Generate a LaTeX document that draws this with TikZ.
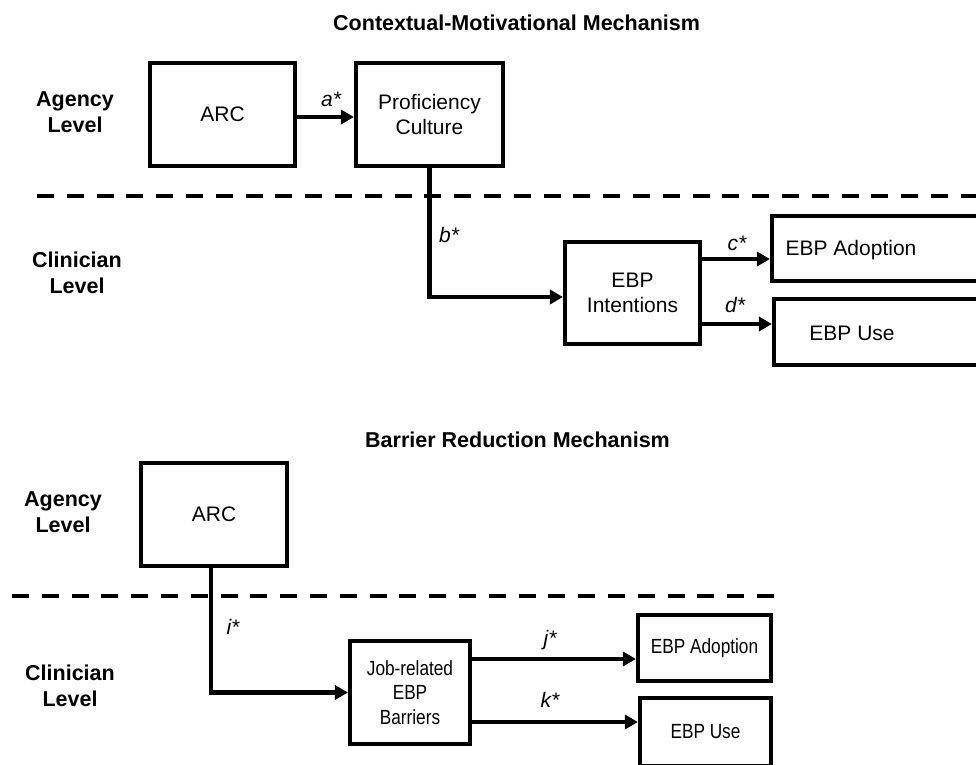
\documentclass[tikz,border=0pt]{standalone}
\usepackage{fontspec}
\setmainfont{Liberation Sans}
\newfontfamily\narrowfont[FakeStretch=0.84]{Liberation Sans}
\usetikzlibrary{arrows.meta}
\begin{document}
\begin{tikzpicture}[x=1pt,y=-1pt,
  box/.style={draw=black, line width=4.1pt, inner sep=0pt, align=center, font=\fontsize{21}{25}\selectfont},
  nbox/.style={box, font=\narrowfont\fontsize{20.5}{24.5}\selectfont},
  lvl/.style={align=center, inner sep=0pt, font=\bfseries\fontsize{21.5}{26}\selectfont},
  ttl/.style={anchor=base west, inner sep=0pt, font=\bfseries\fontsize{21.5}{26}\selectfont},
  coef/.style={anchor=base, inner sep=0pt, font=\itshape\fontsize{21}{24}\selectfont},
  arr/.style={line width=4.1pt, -{Triangle[length=13pt,width=14pt]}},
  sep/.style={line width=4.2pt, dash pattern=on 17pt off 12.8pt},
  txt/.style={inner sep=0pt, font=\fontsize{21}{25}\selectfont}]
\useasboundingbox (0,0) rectangle (976,764);
\clip (0,0) rectangle (976,764);

% titles
\node[ttl] (t1) at (333,30) {Contextual-Motivational Mechanism};
\node[ttl] (t2) at (365,447) {Barrier Reduction Mechanism};

% level labels
\node[lvl] (ag1) at (75,112) {Agency\\Level};
\node[lvl] (cl1) at (77,273) {Clinician\\Level};
\node[lvl] (ag2) at (63,512) {Agency\\Level};
\node[lvl] (cl2) at (70,686) {Clinician\\Level};

% separators
\coordinate (d1a) at (37,196);
\coordinate (d1b) at (990,196);
\draw[sep] (d1a) -- (d1b);
\coordinate (d2a) at (12,596);
\coordinate (d2b) at (774,596);
\draw[sep] (d2a) -- (d2b);

% top mechanism
\node[box, minimum width=145, minimum height=103] (arc1) at (222.5,114.5) {ARC};
\node[box, minimum width=147, minimum height=103] (prof) at (429.5,114.5) {Proficiency\\Culture};
\node[box, minimum width=135, minimum height=102] (intent) at (632.5,293) {EBP\\Intentions};
\node[box, minimum width=240, minimum height=65] (adopt1) at (892,248.5) {};
\node[txt] (adopt1t) at (851,250) {EBP Adoption};
\node[box, minimum width=240, minimum height=66] (use1) at (894,332) {};
\node[txt] (use1t) at (852,333) {EBP Use};

\draw[arr] ([yshift=-2.5pt]arc1.east) -- ([yshift=-2.5pt]prof.west);
\draw[arr] (prof.south) |- ([yshift=-4pt]intent.west);
\coordinate (c1) at ([yshift=34pt]intent.east);
\draw[arr] (c1) -- (c1 -| adopt1.west);
\coordinate (e1) at ([yshift=-31pt]intent.east);
\draw[arr] (e1) -- (e1 -| use1.west);

\node[coef] (la) at (331,106) {a*};
\node[coef] (lb) at (449,242) {b*};
\node[coef] (lc) at (737,250) {c*};
\node[coef] (ld) at (735,312) {d*};

% bottom mechanism
\node[box, minimum width=146, minimum height=103] (arc2) at (214,514.5) {ARC};
\node[nbox, minimum width=120, minimum height=103] (job) at (410,692.5) {Job-related\\EBP\\Barriers};
\node[nbox, minimum width=133, minimum height=66] (adopt2) at (704.5,648) {EBP Adoption};
\node[nbox, minimum width=131, minimum height=68] (use2) at (705.5,732) {EBP Use};

\coordinate (b0) at ([xshift=-3pt]arc2.south);
\draw[arr] (b0) |- (job.west);
\coordinate (j1) at ([yshift=33.5pt]job.east);
\draw[arr] (j1) -- (j1 -| adopt2.west);
\coordinate (k1) at ([yshift=-29.5pt]job.east);
\draw[arr] (k1) -- (k1 -| use2.west);

\node[coef] (li) at (233,634) {i*};
\node[coef] (lj) at (550,645) {j*};
\node[coef] (lk) at (550,707) {k*};
\end{tikzpicture}
\end{document}
